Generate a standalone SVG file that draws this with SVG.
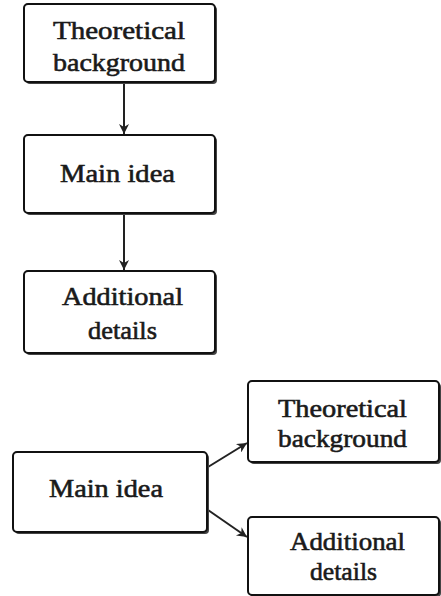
<svg xmlns="http://www.w3.org/2000/svg" width="441" height="596" viewBox="0 0 441 596">
<defs>
<style>
.sh{fill:#444;stroke:none}
.bx{fill:#fff;stroke:#111;stroke-width:2}
.t{font-family:'Liberation Serif','Times New Roman',serif;font-size:26px;fill:#1a1a1a;text-anchor:middle;stroke:#1a1a1a;stroke-width:0.6}
.c{stroke:#222;stroke-width:2;fill:none}
</style>
<marker id="ah" viewBox="0 0 10 10" refX="10" refY="5" markerWidth="12" markerHeight="10" orient="auto" markerUnits="userSpaceOnUse">
<path d="M0,0 L10,5 L0,10 L3,5 z" fill="#222"/>
</marker>
</defs>
<rect width="441" height="596" fill="#fff"/>
<g id="connectors">
<line class="c" x1="124" y1="84" x2="124" y2="134" marker-end="url(#ah)"/>
<line class="c" x1="124" y1="215" x2="124" y2="270" marker-end="url(#ah)"/>
<line class="c" x1="208" y1="467" x2="247" y2="443" marker-end="url(#ah)"/>
<line class="c" x1="208" y1="510" x2="247" y2="537" marker-end="url(#ah)"/>
</g>
<g id="n1">
<rect class="sh" x="26" y="6" width="191" height="78" rx="4"/>
<rect class="bx" x="24" y="4" width="191" height="78" rx="4"/>
<text class="t" x="119" y="39" textLength="132" lengthAdjust="spacingAndGlyphs">Theoretical</text>
<text class="t" x="119" y="71" textLength="132" lengthAdjust="spacingAndGlyphs">background</text>
</g>
<g id="n2">
<rect class="sh" x="26" y="137" width="191" height="78" rx="4"/>
<rect class="bx" x="24" y="135" width="191" height="78" rx="4"/>
<text class="t" x="117.5" y="182" textLength="115" lengthAdjust="spacingAndGlyphs">Main idea</text>
</g>
<g id="n3">
<rect class="sh" x="26" y="273" width="191" height="82" rx="4"/>
<rect class="bx" x="24" y="271" width="191" height="82" rx="4"/>
<text class="t" x="122.5" y="305" textLength="121" lengthAdjust="spacingAndGlyphs">Additional</text>
<text class="t" x="122.5" y="339" textLength="69" lengthAdjust="spacingAndGlyphs">details</text>
</g>
<g id="n4">
<rect class="sh" x="15" y="454" width="194" height="80" rx="4"/>
<rect class="bx" x="13" y="452" width="194" height="80" rx="4"/>
<text class="t" x="106" y="497" textLength="114" lengthAdjust="spacingAndGlyphs">Main idea</text>
</g>
<g id="n5">
<rect class="sh" x="250" y="383" width="191" height="81" rx="4"/>
<rect class="bx" x="248" y="381" width="191" height="81" rx="4"/>
<text class="t" x="342.5" y="417" textLength="129" lengthAdjust="spacingAndGlyphs">Theoretical</text>
<text class="t" x="342.5" y="447" textLength="129" lengthAdjust="spacingAndGlyphs">background</text>
</g>
<g id="n6">
<rect class="sh" x="250" y="519" width="191" height="78" rx="4"/>
<rect class="bx" x="248" y="517" width="191" height="78" rx="4"/>
<text class="t" x="347.5" y="550" textLength="115" lengthAdjust="spacingAndGlyphs">Additional</text>
<text class="t" x="343.5" y="580" textLength="67" lengthAdjust="spacingAndGlyphs">details</text>
</g>
</svg>
